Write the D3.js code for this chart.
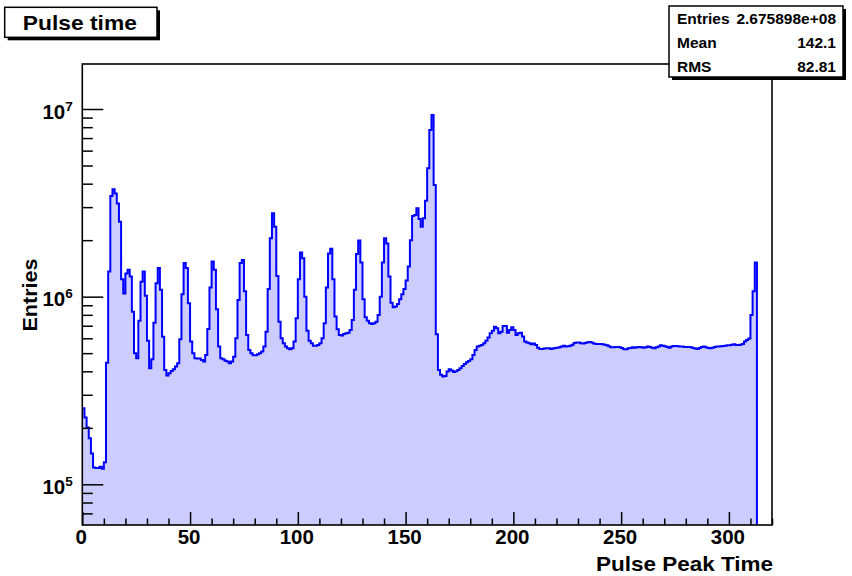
<!DOCTYPE html>
<html>
<head>
<meta charset="utf-8">
<script src="https://cdn.jsdelivr.net/npm/d3@7"></script>
<style>
  body { margin: 0; background: #fff; }
  svg { display: block; }
  text { font-family: "Liberation Sans", Arial, Helvetica, sans-serif; font-weight: bold; fill: #000; }
</style>
</head>
<body>
<svg id="chart" width="852" height="576"></svg>
<script>
// Histogram binning: 320 bins of width 1 starting at 0
const binLow = 0;
const binWidth = 1;
const binCount = 320;

// Bin contents (entries per bin)
const counts = [
  2.54e5, 2.27e5, 2.01e5, 1.76e5, 1.46e5, 1.23e5, 1.22e5, 1.22e5, 1.24e5, 1.21e5,
  1.31e5, 4.45e5, 1.36e6, 3.44e6, 3.73e6, 3.55e6, 3.14e6, 2.51e6, 1.24e6, 1.04e6,
  1.33e6, 1.39e6, 1.28e6, 8.32e5, 4.99e5, 4.69e5, 7.45e5, 1.20e6, 1.36e6, 1.01e6,
  5.83e5, 4.15e5, 4.64e5, 7.27e5, 1.18e6, 1.42e6, 1.09e6, 6.12e5, 4.07e5, 3.80e5,
  3.91e5, 4.02e5, 4.10e5, 4.24e5, 4.42e5, 5.93e5, 1.03e6, 1.51e6, 1.42e6, 9.22e5,
  5.76e5, 4.99e5, 4.69e5, 4.68e5, 4.68e5, 4.60e5, 4.51e5, 4.89e5, 6.73e5, 1.12e6,
  1.54e6, 1.39e6, 8.56e5, 5.42e5, 4.69e5, 4.64e5, 4.56e5, 4.51e5, 4.42e5, 4.51e5,
  4.79e5, 6.00e5, 9.60e5, 1.51e6, 1.57e6, 1.07e6, 6.25e5, 5.20e5, 4.99e5, 4.87e5,
  4.87e5, 4.93e5, 4.99e5, 5.10e5, 5.42e5, 6.51e5, 1.10e6, 2.05e6, 2.78e6, 2.36e6,
  1.29e6, 7.36e5, 6.00e5, 5.64e5, 5.42e5, 5.31e5, 5.24e5, 5.31e5, 5.76e5, 7.67e5,
  1.24e6, 1.72e6, 1.60e6, 1.00e6, 6.59e5, 5.83e5, 5.64e5, 5.48e5, 5.48e5, 5.53e5,
  5.64e5, 6.00e5, 7.21e5, 1.12e6, 1.70e6, 1.80e6, 1.24e6, 7.83e5, 6.70e5, 6.25e5,
  6.20e5, 6.33e5, 6.38e5, 6.43e5, 6.65e5, 7.51e5, 1.09e6, 1.69e6, 1.99e6, 1.52e6,
  9.68e5, 7.76e5, 7.45e5, 7.21e5, 7.15e5, 7.21e5, 7.36e5, 7.99e5, 1.00e6, 1.52e6,
  2.05e6, 1.92e6, 1.28e6, 9.29e5, 8.78e5, 8.85e5, 9.15e5, 9.68e5, 1.03e6, 1.10e6,
  1.22e6, 1.45e6, 2.00e6, 2.69e6, 2.72e6, 2.96e6, 2.59e6, 2.36e6, 2.62e6, 3.24e6,
  4.83e6, 7.73e6, 9.29e6, 3.94e6, 6.30e5, 4.07e5, 3.83e5, 3.75e5, 3.78e5, 3.99e5,
  4.10e5, 4.04e5, 3.97e5, 4.00e5, 4.07e5, 4.15e5, 4.27e5, 4.38e5, 4.47e5, 4.54e5,
  4.64e5, 4.89e5, 5.20e5, 5.42e5, 5.48e5, 5.53e5, 5.64e5, 5.83e5, 6.05e5, 6.38e5,
  6.59e5, 6.92e5, 6.78e5, 6.38e5, 6.51e5, 6.98e5, 6.98e5, 6.43e5, 6.65e5, 6.87e5,
  6.65e5, 6.25e5, 6.38e5, 6.43e5, 6.13e5, 5.76e5, 5.69e5, 5.64e5, 5.57e5, 5.62e5,
  5.53e5, 5.35e5, 5.26e5, 5.26e5, 5.29e5, 5.31e5, 5.31e5, 5.26e5, 5.29e5, 5.33e5,
  5.35e5, 5.37e5, 5.42e5, 5.48e5, 5.42e5, 5.44e5, 5.48e5, 5.55e5, 5.67e5, 5.69e5,
  5.69e5, 5.64e5, 5.62e5, 5.67e5, 5.71e5, 5.74e5, 5.69e5, 5.62e5, 5.60e5, 5.60e5,
  5.60e5, 5.57e5, 5.55e5, 5.51e5, 5.44e5, 5.37e5, 5.37e5, 5.40e5, 5.40e5, 5.37e5,
  5.33e5, 5.24e5, 5.24e5, 5.31e5, 5.33e5, 5.37e5, 5.35e5, 5.37e5, 5.40e5, 5.37e5,
  5.35e5, 5.37e5, 5.42e5, 5.40e5, 5.35e5, 5.31e5, 5.37e5, 5.42e5, 5.51e5, 5.48e5,
  5.44e5, 5.40e5, 5.35e5, 5.42e5, 5.46e5, 5.46e5, 5.44e5, 5.42e5, 5.42e5, 5.40e5,
  5.40e5, 5.40e5, 5.37e5, 5.33e5, 5.29e5, 5.26e5, 5.33e5, 5.40e5, 5.42e5, 5.37e5,
  5.33e5, 5.31e5, 5.35e5, 5.40e5, 5.42e5, 5.42e5, 5.44e5, 5.46e5, 5.48e5, 5.51e5,
  5.51e5, 5.55e5, 5.57e5, 5.53e5, 5.53e5, 5.55e5, 5.60e5, 5.76e5, 5.88e5, 5.98e5,
  7.99e5, 1.07e6, 1.52e6, 0, 0, 0, 0, 0, 0, 0
];

// Axis ticks and labels
const xMajorTicks = [0, 50, 100, 150, 200, 250, 300];
const xMinorTicks = d3.range(0, 321, 10).filter(v => v % 50 !== 0);
const yDecades = [5, 6, 7];
const yMinorTicks = [7e4, 8e4, 9e4,
  2e5, 3e5, 4e5, 5e5, 6e5, 7e5, 8e5, 9e5,
  2e6, 3e6, 4e6, 5e6, 6e6, 7e6, 8e6, 9e6];

// Texts
const histTitle = "Pulse time";
const xTitle = "Pulse Peak Time";
const yTitle = "Entries";
const statNames = ["Entries", "Mean", "RMS"];
const statValues = ["2.675898e+08", "142.1", "82.81"];

// Layout
const frame = { left: 82.3, right: 772, top: 64, bottom: 525 };
const yMin = 6.07e4, yMax = 1.737e7;

const svg = d3.select("#chart");

const x = d3.scaleLinear()
  .domain([binLow, binLow + binCount * binWidth])
  .range([frame.left, frame.right]);

const y = d3.scaleLog()
  .domain([yMin, yMax])
  .range([frame.bottom, frame.top]);

const yPix = v => (v > yMin ? y(v) : frame.bottom + 2);

// Clip the histogram to the frame
svg.append("defs").append("clipPath").attr("id", "frameClip")
  .append("rect")
  .attr("x", frame.left).attr("y", frame.top)
  .attr("width", frame.right - frame.left)
  .attr("height", frame.bottom - frame.top);

// Bin edges with content (last edge repeats final bin for step drawing)
const steps = counts.map((c, i) => ({ edge: binLow + i * binWidth, c }));
steps.push({ edge: binLow + counts.length * binWidth, c: counts[counts.length - 1] });

const area = d3.area()
  .curve(d3.curveStepAfter)
  .x(d => x(d.edge))
  .y0(frame.bottom + 2)
  .y1(d => yPix(d.c));

const line = d3.line()
  .curve(d3.curveStepAfter)
  .x(d => x(d.edge))
  .y(d => yPix(d.c));

const g = svg.append("g").attr("clip-path", "url(#frameClip)");
g.append("path").datum(steps)
  .attr("d", area)
  .attr("fill", "#ccccff");
g.append("path").datum(steps)
  .attr("d", line)
  .attr("fill", "none")
  .attr("stroke", "#0000ff")
  .attr("stroke-width", 2);

// X axis: major and minor ticks pointing into the frame
const xAxisMajor = d3.axisBottom(x)
  .tickValues(xMajorTicks)
  .tickSizeInner(-13).tickSizeOuter(0)
  .tickPadding(4)
  .tickFormat(d3.format("d"));
const xAxisMinor = d3.axisBottom(x)
  .tickValues(xMinorTicks)
  .tickSizeInner(-6.5).tickSizeOuter(0)
  .tickFormat("");

const gxMinor = svg.append("g").attr("transform", `translate(0,${frame.bottom})`).call(xAxisMinor);
const gx = svg.append("g").attr("transform", `translate(0,${frame.bottom})`).call(xAxisMajor);
[gx, gxMinor].forEach(a => {
  a.select(".domain").remove();
  a.selectAll(".tick line").attr("stroke", "#000").attr("stroke-width", 1.5);
});
gx.selectAll(".tick text")
  .attr("font-size", 20.5)
  .attr("dx", -1.5)
  .style("font-family", '"Liberation Sans", Arial, sans-serif')
  .style("font-weight", "bold")
  .attr("fill", "#000");

// Y axis: decades labelled 10^n, minor ticks at 2..9
const yAxisMajor = d3.axisLeft(y)
  .tickValues(yDecades.map(e => Math.pow(10, e)))
  .tickSizeInner(-21).tickSizeOuter(0)
  .tickFormat("");
const yAxisMinor = d3.axisLeft(y)
  .tickValues(yMinorTicks)
  .tickSizeInner(-10.5).tickSizeOuter(0)
  .tickFormat("");

const gyMinor = svg.append("g").attr("transform", `translate(${frame.left},0)`).call(yAxisMinor);
const gy = svg.append("g").attr("transform", `translate(${frame.left},0)`).call(yAxisMajor);
[gy, gyMinor].forEach(a => {
  a.select(".domain").remove();
  a.selectAll(".tick line").attr("stroke", "#000").attr("stroke-width", 1.5);
});

gy.selectAll(".tick").each(function (d) {
  const t = d3.select(this).append("text")
    .attr("x", -9.5)
    .attr("y", 9.3)
    .attr("text-anchor", "end")
    .attr("font-size", 20.5);
  t.append("tspan").text("10");
  t.append("tspan")
    .attr("font-size", 13.5)
    .attr("dy", -8)
    .text(String(Math.round(Math.log10(d))));
});

// Frame
svg.append("rect")
  .attr("x", frame.left).attr("y", frame.top)
  .attr("width", frame.right - frame.left)
  .attr("height", frame.bottom - frame.top)
  .attr("fill", "none")
  .attr("stroke", "#000")
  .attr("stroke-width", 1.6);

// Axis titles
svg.append("text")
  .attr("x", frame.right + 1).attr("y", 571)
  .attr("text-anchor", "end")
  .attr("font-size", 20.5)
  .attr("textLength", 177)
  .attr("lengthAdjust", "spacingAndGlyphs")
  .text(xTitle);

svg.append("text")
  .attr("transform", "translate(37,295) rotate(-90)")
  .attr("text-anchor", "middle")
  .attr("font-size", 20.5)
  .attr("textLength", 73)
  .attr("lengthAdjust", "spacingAndGlyphs")
  .text(yTitle);

// Title box with shadow
const tb = { x: 4.7, y: 7.3, w: 152.3, h: 30 };
svg.append("rect").attr("x", tb.x + 3).attr("y", tb.y + 3)
  .attr("width", tb.w).attr("height", tb.h).attr("fill", "#000");
svg.append("rect").attr("x", tb.x).attr("y", tb.y)
  .attr("width", tb.w).attr("height", tb.h)
  .attr("fill", "#fff").attr("stroke", "#000").attr("stroke-width", 1.5);
svg.append("text")
  .attr("x", tb.x + tb.w / 2 - 1).attr("y", 30)
  .attr("text-anchor", "middle")
  .attr("font-size", 21)
  .attr("textLength", 114)
  .attr("lengthAdjust", "spacingAndGlyphs")
  .text(histTitle);

// Statistics box with shadow
const sb = { x: 669, y: 6, w: 174, h: 71 };
svg.append("rect").attr("x", sb.x + 3).attr("y", sb.y + 3)
  .attr("width", sb.w).attr("height", sb.h).attr("fill", "#000");
svg.append("rect").attr("x", sb.x).attr("y", sb.y)
  .attr("width", sb.w).attr("height", sb.h)
  .attr("fill", "#fff").attr("stroke", "#000").attr("stroke-width", 1.5);
const rowBase = [24, 48, 71.5];
statNames.forEach((n, i) => {
  svg.append("text").attr("x", 677).attr("y", rowBase[i])
    .attr("font-size", 15.5).text(n);
  svg.append("text").attr("x", 836).attr("y", rowBase[i])
    .attr("text-anchor", "end").attr("font-size", 15.5).text(statValues[i]);
});
</script>
</body>
</html>
